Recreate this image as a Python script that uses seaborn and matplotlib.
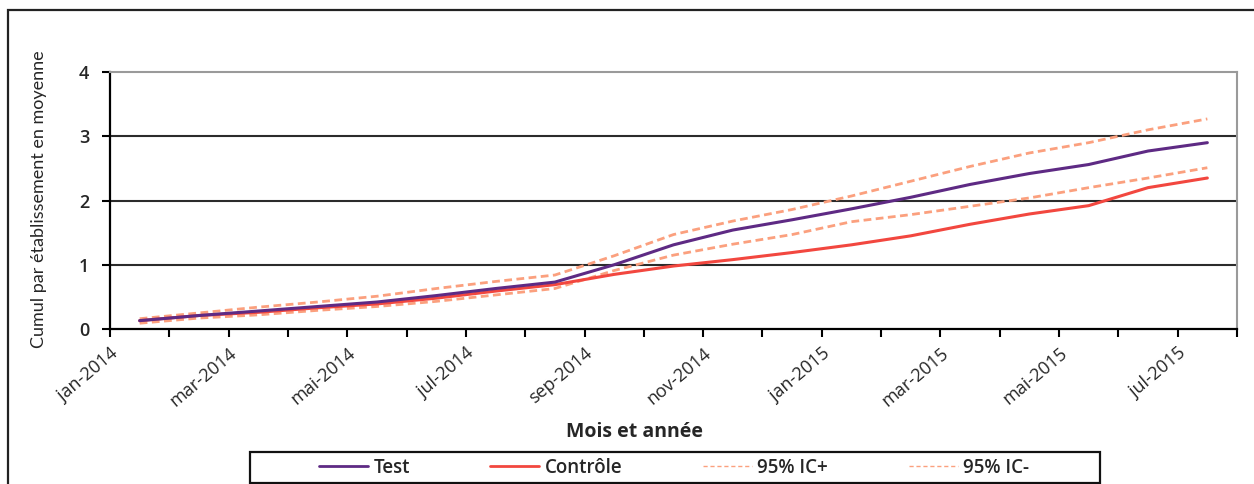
import numpy as np
import pandas as pd
import matplotlib
matplotlib.use("Agg")
import matplotlib.pyplot as plt
from matplotlib.lines import Line2D
from matplotlib.patches import Rectangle
import seaborn as sns

# Monthly categories (jan-2014 .. jul-2015)
months = ["jan-2014", "fév-2014", "mar-2014", "avr-2014", "mai-2014", "jun-2014",
          "jul-2014", "aoû-2014", "sep-2014", "oct-2014", "nov-2014", "déc-2014",
          "jan-2015", "fév-2015", "mar-2015", "avr-2015", "mai-2015", "jun-2015",
          "jul-2015"]

test = [0.13, 0.21, 0.28, 0.35, 0.42, 0.52, 0.63, 0.73, 1.00, 1.31, 1.54, 1.70,
        1.87, 2.05, 2.25, 2.42, 2.56, 2.77, 2.90]
controle = [0.13, 0.21, 0.26, 0.33, 0.39, 0.48, 0.59, 0.69, 0.85, 0.98, 1.08, 1.19,
            1.31, 1.45, 1.63, 1.79, 1.92, 2.20, 2.35]
ic_plus = [0.16, 0.25, 0.34, 0.42, 0.51, 0.63, 0.74, 0.84, 1.14, 1.47, 1.68, 1.86,
           2.07, 2.30, 2.53, 2.74, 2.90, 3.10, 3.27]
ic_minus = [0.09, 0.17, 0.22, 0.29, 0.35, 0.43, 0.53, 0.63, 0.91, 1.15, 1.32, 1.47,
            1.67, 1.78, 1.91, 2.04, 2.20, 2.35, 2.51]

# labelled ticks every two months
tick_labels = months[::2]

sns.set_theme(style="white")
plt.rcParams["font.family"] = ["Open Sans", "DejaVu Sans"]

PURPLE = "#5E2A84"
RED = "#F2473F"
SALMON = "#FBA07E"

fig = plt.figure(figsize=(12.54, 4.84), dpi=100)
ax = fig.add_axes([110 / 1254, 1 - 329 / 484, (1237 - 110) / 1254, (329 - 72) / 484])

# month index; each value sits in the middle of its month
pos = np.arange(len(months)) + 0.5
df = pd.DataFrame({"pos": pos, "Test": test, "Contrôle": controle,
                   "95% IC+": ic_plus, "95% IC-": ic_minus})

for col in ["95% IC+", "95% IC-"]:
    sns.lineplot(data=df, x="pos", y=col, ax=ax, color=SALMON, lw=2.0,
                 dashes=False, linestyle=(0, (2.8, 1.6)), zorder=3)
sns.lineplot(data=df, x="pos", y="Contrôle", ax=ax, color=RED, lw=2.2, zorder=4)
sns.lineplot(data=df, x="pos", y="Test", ax=ax, color=PURPLE, lw=2.2, zorder=5)

ax.set_xlim(0, len(months))
ax.set_ylim(0, 4)

# y grid
for yv in [1, 2, 3]:
    ax.axhline(yv, color="#2b2b2b", lw=1.5, zorder=1)

ax.set_yticks([0, 1, 2, 3, 4])
ax.set_yticklabels(["0", "1", "2", "3", "4"], fontsize=13, fontweight="semibold")
ax.set_xticks(np.arange(0, len(months), 2))
ax.set_xticks(np.arange(0, len(months) + 1), minor=True)
ax.set_xticklabels(tick_labels, rotation=40, ha="right", va="top",
                   rotation_mode="anchor", fontsize=13)
ax.tick_params(axis="y", which="both", direction="out", length=6, width=1.5,
               color="black", left=True, pad=9)
ax.tick_params(axis="x", which="both", direction="out", length=6, width=1.5,
               color="black", bottom=True, pad=5)

for side in ["left", "bottom"]:
    ax.spines[side].set_color("black")
    ax.spines[side].set_linewidth(1.6)
for side in ["top", "right"]:
    ax.spines[side].set_color("#9a9a9a")
    ax.spines[side].set_linewidth(1.5)

ax.set_xlabel("")
ax.set_ylabel("")
fig.text(634 / 1254, 1 - 432 / 484, "Mois et année", ha="center", va="center",
         fontsize=14, fontweight="bold")
fig.text(39 / 1254, 1 - 199 / 484, "Cumul par établissement en moyenne",
         rotation=90, ha="center", va="center", fontsize=13,
         family=["Lato", "DejaVu Sans"])

# outer chart frame
fig.patches.append(Rectangle((8 / 1254, -0.2), 1.2, 1.2 - 10 / 484,
                             transform=fig.transFigure, fill=False,
                             edgecolor="#222222", lw=1.6, zorder=0))

# legend box
fig.patches.append(Rectangle((250 / 1254, 1 - 483 / 484), 850 / 1254, 31 / 484,
                             transform=fig.transFigure, fill=False,
                             edgecolor="#111111", lw=1.6, zorder=1))

handles = [
    Line2D([], [], color=PURPLE, lw=2.0),
    Line2D([], [], color=RED, lw=2.0),
    Line2D([], [], color=SALMON, lw=1.0, linestyle=(0, (3, 2))),
    Line2D([], [], color=SALMON, lw=1.0, linestyle=(0, (3, 2))),
]
leg = fig.legend(handles, ["Test", "Contrôle", "95% IC+", "95% IC-"], ncol=4,
                 loc="center", bbox_to_anchor=(674 / 1254, 1 - 468 / 484),
                 frameon=False, handlelength=2.6, handletextpad=0.3,
                 columnspacing=4.3, borderpad=0.3,
                 prop={"size": 13.5, "weight": "semibold"})

fig.savefig("out.png", dpi=100)
